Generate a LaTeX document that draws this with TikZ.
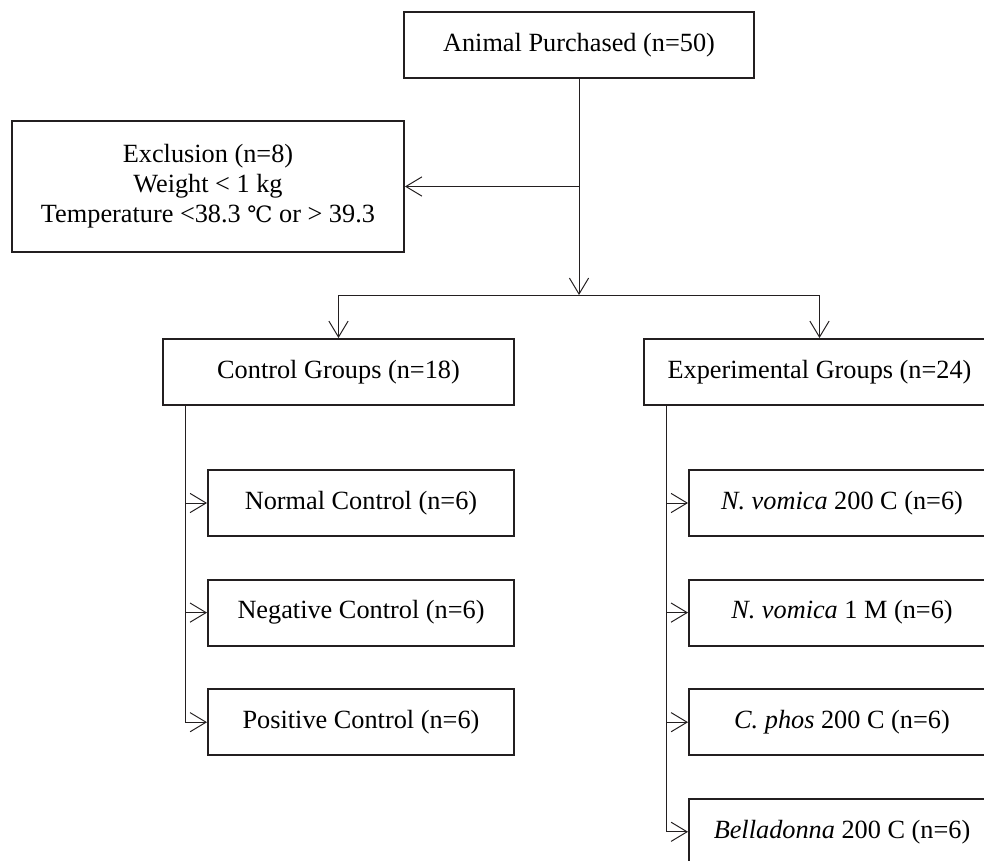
\documentclass[tikz,border=0pt]{standalone}
\usepackage{fontspec}
\setmainfont{Liberation Serif}
\newfontfamily\degfont{DejaVu Serif}
\usepackage{tikz}
\usetikzlibrary{positioning,arrows.meta,calc}
\definecolor{ink}{HTML}{231F20}

\begin{document}
\begin{tikzpicture}[
  box/.style={draw=ink, line width=1.4pt, minimum height=16.5mm, inner sep=0,
              align=center, font=\fontsize{18.7}{21.3}\selectfont},
  grp/.style={box, minimum width=87.75mm},
  sub/.style={box, minimum width=76.5mm},
  arr/.style={draw=ink, line width=0.7pt,
              -{Straight Barb[length=4mm, width=4.8mm, line width=0.7pt]}}]
\useasboundingbox (0,0) rectangle (24.6,-21.5);
\clip (0,0) rectangle (24.6,-21.5);
% enrolment and exclusion
\node[box, minimum width=87.5mm] (buy) at (14.475,-1.125) {Animal Purchased (n=50)};
\node[box, minimum width=98mm, minimum height=32.75mm] (excl) at (5.2,-4.6625)
  {Exclusion (n=8)\\Weight < 1 kg\\Temperature <38.3 {\degfont\fontsize{16}{19}\selectfont ℃} or > 39.3};
\coordinate (split) at (14.475,-7.375);
\coordinate (tee) at (buy.south |- excl.east);
\draw[arr] (buy.south) -- (split);
\draw[arr] (tee) -- (excl.east);
% the two arms
\node[grp] (ctrl) at (8.4625,-9.3) {Control Groups (n=18)};
\node[grp] (expt) at (20.4875,-9.3) {Experimental Groups (n=24)};
\draw[arr] (split) -| (ctrl.north);
\draw[arr] (split) -| (expt.north);
% control arm
\foreach \t [count=\i] in {Normal Control (n=6), Negative Control (n=6),
                           Positive Control (n=6)} {
  \node[sub] (c\i) at (9.025,-12.575-2.74*\i+2.74) {\t};
  \draw[arr] ([xshift=5.75mm]ctrl.south west) |- (c\i.west);}
% experimental arm
\foreach \t [count=\i] in {\emph{N. vomica} 200 C (n=6), \emph{N. vomica} 1 M (n=6),
                           \emph{C. phos} 200 C (n=6), \emph{Belladonna} 200 C (n=6)} {
  \node[sub] (e\i) at (21.05,-12.575-2.74*\i+2.74) {\t};
  \draw[arr] ([xshift=5.75mm]expt.south west) |- (e\i.west);}
\end{tikzpicture}
\end{document}
